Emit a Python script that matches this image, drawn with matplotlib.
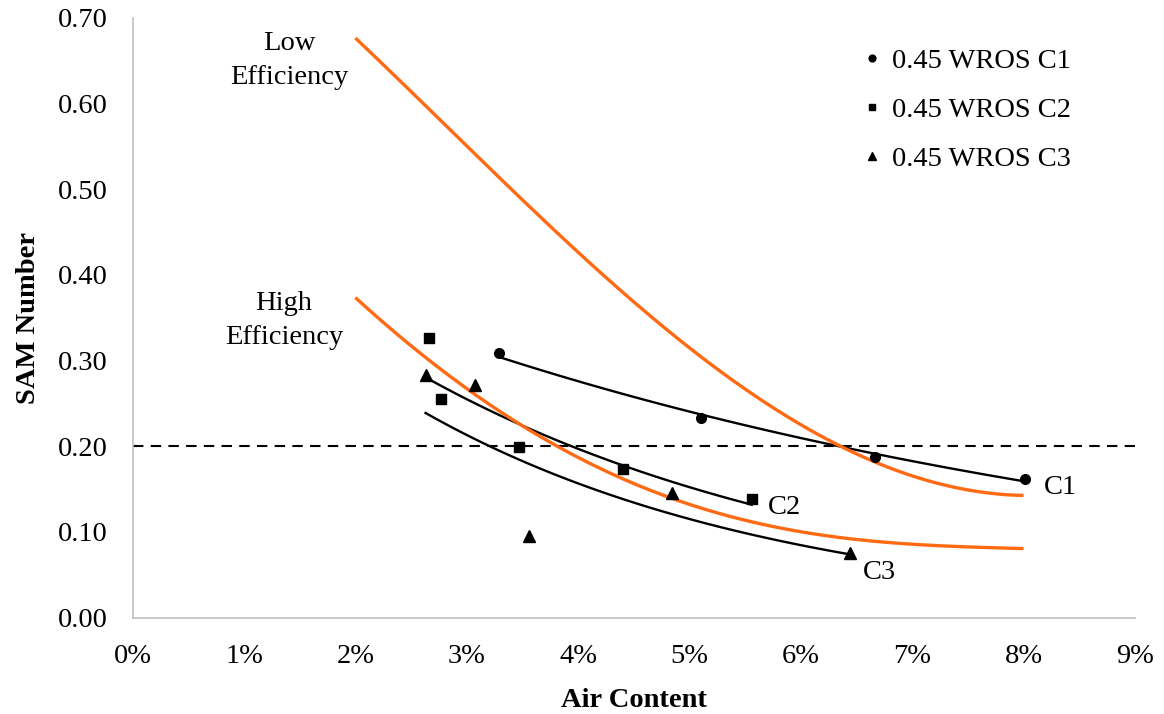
import numpy as np
import matplotlib
matplotlib.use("Agg")
import matplotlib.pyplot as plt
from matplotlib.ticker import PercentFormatter, MultipleLocator

plt.rcParams['font.family'] = ['Liberation Serif', 'DejaVu Serif']

# Measured data (air content as fraction, SAM number)
c1_air = [0.0329, 0.0510, 0.0667, 0.0801]
c1_sam = [0.309, 0.233, 0.188, 0.162]
c2_air = [0.02665, 0.02767, 0.0347, 0.0440, 0.0556]
c2_sam = [0.326, 0.255, 0.199, 0.173, 0.139]
c3_air = [0.0263, 0.0307, 0.0356, 0.0484, 0.0644]
c3_sam = [0.283, 0.271, 0.095, 0.146, 0.075]

# Efficiency boundary curves
eff_air = [0.020, 0.025, 0.030, 0.035, 0.040, 0.045, 0.050, 0.055, 0.060, 0.065, 0.070, 0.075, 0.080]
low_eff = [0.677, 0.613, 0.550, 0.488, 0.428, 0.368, 0.313, 0.268, 0.226, 0.189, 0.166, 0.150, 0.142]
high_eff = [0.373, 0.318, 0.267, 0.225, 0.186, 0.155, 0.132, 0.115, 0.101, 0.091, 0.085, 0.082, 0.081]

threshold = 0.20
series_labels = ["0.45 WROS C1", "0.45 WROS C2", "0.45 WROS C3"]
curve_labels = ["C1", "C2", "C3"]

fig = plt.figure(figsize=(11.64, 7.14), dpi=100)
ax = fig.add_axes([0.114, 0.135, 0.861, 0.840])

orange = '#FF6A13'
fs = 20.5

def smooth(xs, ys, n=200):
    xs = np.asarray(xs); ys = np.asarray(ys)
    xx = np.linspace(xs.min(), xs.max(), n)
    p = np.polyfit(xs, ys, 4)
    return xx, np.polyval(p, xx)

def exp_trend(xs, ys, n=100):
    xs = np.asarray(xs); ys = np.asarray(ys)
    b, a = np.polyfit(xs, np.log(ys), 1)
    xx = np.linspace(xs.min(), xs.max(), n)
    return xx, np.exp(a + b * xx)

# threshold dashed line
ax.axhline(threshold, color='black', lw=1.5, ls=(0, (5, 3.5)), zorder=1)

# trend lines
for xs, ys in [(c1_air, c1_sam), (c2_air, c2_sam), (c3_air, c3_sam)]:
    xx, yy = exp_trend(xs, ys)
    ax.plot(xx, yy, color='black', lw=1.7, zorder=2)

# efficiency curves
for ys in (low_eff, high_eff):
    xx, yy = smooth(eff_air, ys)
    ax.plot(xx, yy, color=orange, lw=2.4, zorder=3, solid_capstyle='butt')

# markers
ax.plot(c1_air, c1_sam, 'o', color='black', ms=7, ls='none', label=series_labels[0], zorder=4)
ax.plot(c2_air, c2_sam, 's', color='black', ms=6.5, ls='none', label=series_labels[1], zorder=4)
ax.plot(c3_air, c3_sam, '^', color='black', ms=8, ls='none', label=series_labels[2], zorder=4)

# curve labels
ax.text(0.0818, 0.152, curve_labels[0], fontsize=fs, va='center', ha='left')
ax.text(0.0570, 0.128, curve_labels[1], fontsize=fs, va='center', ha='left')
ax.text(0.0656, 0.053, curve_labels[2], fontsize=fs, va='center', ha='left')
ax.text(0.0141, 0.650, "Low\nEfficiency", fontsize=fs, ha='center', va='center', linespacing=1.5)
ax.text(0.0136, 0.347, "High\nEfficiency", fontsize=fs, ha='center', va='center', linespacing=1.5)

ax.set_xlim(0, 0.09)
ax.set_ylim(0, 0.70)
ax.xaxis.set_major_locator(MultipleLocator(0.01))
ax.yaxis.set_major_locator(MultipleLocator(0.10))
ax.xaxis.set_major_formatter(PercentFormatter(1.0, decimals=0))
ax.yaxis.set_major_formatter(matplotlib.ticker.FormatStrFormatter('%.2f'))
ax.tick_params(length=0, labelsize=fs)
ax.tick_params(axis='x', pad=19)
ax.tick_params(axis='y', pad=18)

for s in ('top', 'right'):
    ax.spines[s].set_visible(False)
for s in ('left', 'bottom'):
    ax.spines[s].set_color('#BFBFBF')
    ax.spines[s].set_linewidth(1.2)

ax.set_xlabel("Air Content", fontsize=fs, fontweight='bold', labelpad=14)
ax.set_ylabel("SAM Number", fontsize=fs, fontweight='bold', labelpad=12)

leg = ax.legend(loc='upper right', bbox_to_anchor=(0.962, 0.993), frameon=False, fontsize=fs,
                markerscale=0.7, handlelength=0.6, handletextpad=0.4, labelspacing=0.82)

fig.savefig("out.png", dpi=100)
